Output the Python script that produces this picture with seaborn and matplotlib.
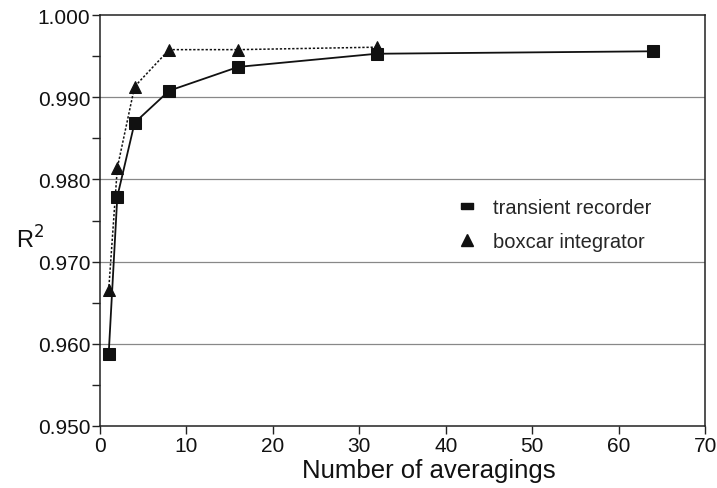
import matplotlib
matplotlib.use("Agg")
import matplotlib.pyplot as plt
import seaborn as sns
import pandas as pd
from matplotlib.ticker import MultipleLocator
from matplotlib.lines import Line2D

averagings_tr = [1, 2, 4, 8, 16, 32, 64]
r2_tr = [0.9587, 0.9779, 0.9869, 0.9908, 0.9937, 0.9953, 0.9956]
averagings_bi = [1, 2, 4, 8, 16, 32]
r2_bi = [0.9665, 0.9814, 0.9913, 0.9958, 0.9958, 0.9961]
labels = ["transient recorder", "boxcar integrator"]

sns.set_theme(style="white")
plt.rcParams['font.family'] = ['Liberation Sans', 'DejaVu Sans']

df_tr = pd.DataFrame({"x": averagings_tr, "y": r2_tr})
df_bi = pd.DataFrame({"x": averagings_bi, "y": r2_bi})

fig = plt.figure(figsize=(7.17, 4.89), dpi=100)
ax = fig.add_axes([0.1395, 0.127, 0.844, 0.840])

for yv in [0.960, 0.970, 0.980, 0.990]:
    ax.axhline(yv, color="#888888", lw=0.9, zorder=0)

sns.lineplot(data=df_bi, x="x", y="y", ax=ax, color="#111111", lw=1.1,
             linestyle=(0, (1.5, 1.2)), marker="^", markersize=9,
             markeredgecolor="#111111", markerfacecolor="#111111", zorder=3)
sns.lineplot(data=df_tr, x="x", y="y", ax=ax, color="#111111", lw=1.3,
             marker="s", markersize=9, markeredgecolor="#111111",
             markerfacecolor="#111111", zorder=4)

ax.set_xlim(0, 70)
ax.set_ylim(0.950, 1.000)
ax.xaxis.set_major_locator(MultipleLocator(10))
ax.yaxis.set_major_locator(MultipleLocator(0.01))
ax.yaxis.set_minor_locator(MultipleLocator(0.005))
ax.yaxis.set_major_formatter(matplotlib.ticker.FormatStrFormatter("%.3f"))
ax.tick_params(axis="both", which="major", direction="out", length=6, width=1,
               color="#222222", labelsize=15, labelcolor="#111111", pad=1, left=True, bottom=True)
ax.tick_params(axis="y", which="minor", direction="out", length=6, width=1,
               color="#222222", left=True)
for s in ax.spines.values():
    s.set_color("#222222")
    s.set_linewidth(1.1)

ax.set_xlabel("Number of averagings", fontsize=18.5, color="#111111", va="center")
ax.xaxis.set_label_coords(0.544, -0.108)
ax.set_ylabel("R$^{2}$", fontsize=17, color="#111111", rotation=0, va="center", ha="center")
ax.yaxis.set_label_coords(-0.115, 0.455)

rect = [(-1, -0.55), (1, -0.55), (1, 0.55), (-1, 0.55), (-1, -0.55)]
handles = [Line2D([], [], ls="none", marker=rect, markersize=9, color="#111111"),
           Line2D([], [], ls="none", marker="^", markersize=8, color="#111111")]
ax.legend(handles, labels, loc="center left", bbox_to_anchor=(0.544, 0.49),
          frameon=False, fontsize=14.5, handletextpad=0.25, labelspacing=0.75)

fig.savefig("out.png", dpi=100)
